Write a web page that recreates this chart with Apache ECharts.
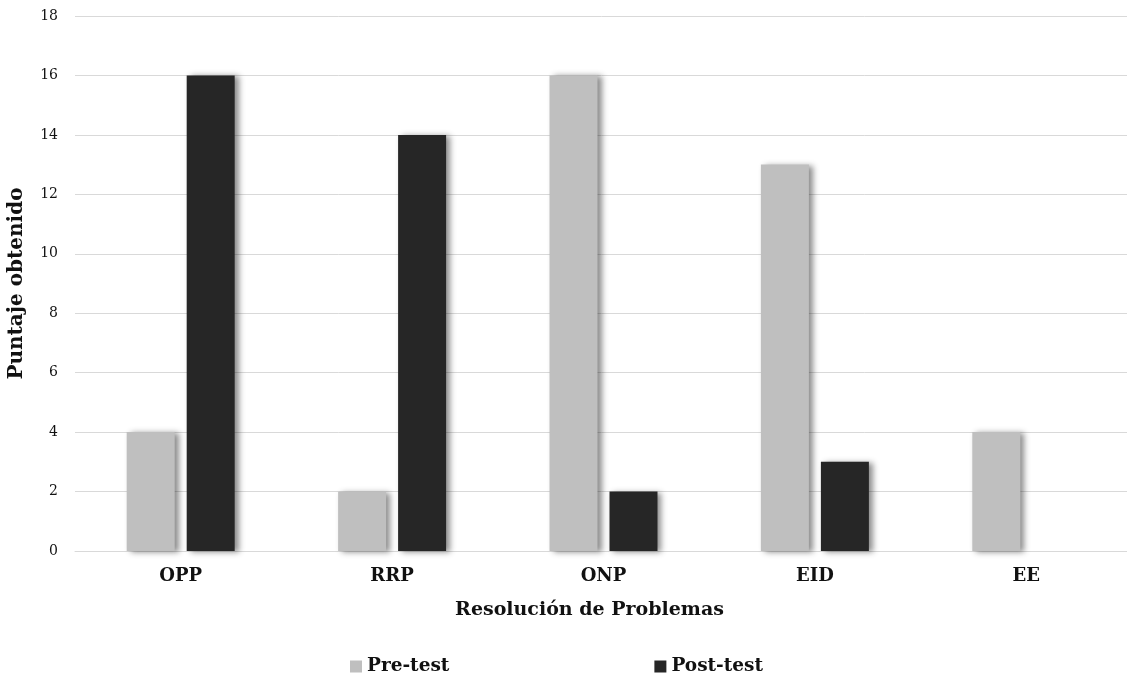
<!DOCTYPE html>
<html>
<head>
<meta charset="utf-8">
<script src="https://cdn.jsdelivr.net/npm/echarts@6/dist/echarts.min.js"></script>
<style>
  html, body { margin: 0; padding: 0; background: #fff; }
  #chart { width: 1127px; height: 677px; }
</style>
</head>
<body>
<div id="chart"></div>
<script>
// Puntajes por dimensión de resolución de problemas
const categories = ['OPP', 'RRP', 'ONP', 'EID', 'EE'];
const preTest = [4, 2, 16, 13, 4];
const postTest = [16, 14, 2, 3, 0];
const seriesNames = ['Pre-test', 'Post-test'];

const serif = '"DejaVu Serif", "Liberation Serif", serif';
const barShadow = {
  shadowColor: 'rgba(0,0,0,0.45)',
  shadowBlur: 6,
  shadowOffsetX: 4,
  shadowOffsetY: 1
};

const chart = echarts.init(document.getElementById('chart'));
chart.setOption({
  animation: false,
  backgroundColor: '#fff',
  grid: { left: 75, right: -5, top: 16, bottom: 126, outerBoundsMode: 'none', containLabel: false },
  legend: {
    top: 652,
    left: 345,
    itemWidth: 12,
    itemHeight: 12,
    itemGap: 205,
    icon: 'rect',
    textStyle: { fontFamily: serif, fontWeight: 'bold', fontSize: 18.5, color: '#111' },
    data: seriesNames
  },
  xAxis: {
    type: 'category',
    data: categories,
    name: 'Resolución de Problemas',
    nameLocation: 'middle',
    nameGap: 50,
    nameTextStyle: { fontFamily: serif, fontWeight: 'bold', fontSize: 19, color: '#111', padding: [0, 28, 0, 0] },
    axisLine: { lineStyle: { color: '#d9d9d9' } },
    axisTick: { show: false },
    axisLabel: { fontFamily: serif, fontWeight: 'bold', fontSize: 18, color: '#111', margin: 16 }
  },
  yAxis: {
    type: 'value',
    min: 0,
    max: 18,
    interval: 2,
    name: 'Puntaje obtenido',
    nameLocation: 'middle',
    nameGap: 48,
    nameTextStyle: { fontFamily: serif, fontWeight: 'bold', fontSize: 20, color: '#111' },
    axisLine: { show: false },
    axisTick: { show: false },
    axisLabel: { fontFamily: serif, fontSize: 14, color: '#111', margin: 17 },
    splitLine: { lineStyle: { color: '#d9d9d9', width: 1 } }
  },
  series: [
    {
      name: seriesNames[0],
      type: 'bar',
      data: preTest,
      barWidth: '22.7%',
      barGap: '25%',
      itemStyle: Object.assign({ color: '#bfbfbf' }, barShadow)
    },
    {
      name: seriesNames[1],
      type: 'bar',
      data: postTest,
      barWidth: '22.7%',
      itemStyle: Object.assign({ color: '#262626' }, barShadow)
    }
  ]
});
</script>
</body>
</html>
